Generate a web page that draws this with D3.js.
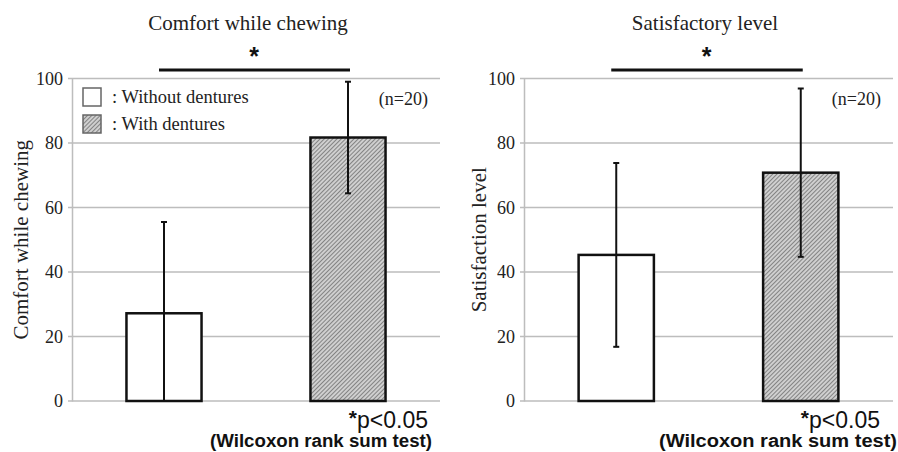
<!DOCTYPE html>
<html>
<head>
<meta charset="utf-8">
<script src="https://cdn.jsdelivr.net/npm/d3@7"></script>
<style>
  body { margin: 0; background: #fff; }
  svg { display: block; }
</style>
</head>
<body>
<script>
// data
var groups = ["Without dentures", "With dentures"];
var titles = ["Comfort while chewing", "Satisfactory level"];
var yLabels = ["Comfort while chewing", "Satisfaction level"];
var comfortMean = [27.2, 81.7];
var comfortSD = [28.3, 17.3];
var satisMean = [45.3, 70.8];
var satisSD = [28.5, 26.1];
var yTicks = [0, 20, 40, 60, 80, 100];

var W = 898, H = 452;
var serif = "'Liberation Serif', 'Times New Roman', serif";
var sans = "'Liberation Sans', Arial, sans-serif";

var svg = d3.select("body").append("svg")
    .attr("width", W)
    .attr("height", H);

// hatch pattern for "with dentures"
var defs = svg.append("defs");
var pat = defs.append("pattern")
    .attr("id", "hatch")
    .attr("patternUnits", "userSpaceOnUse")
    .attr("width", 3)
    .attr("height", 3)
    .attr("patternTransform", "rotate(45)");
pat.append("rect").attr("width", 3).attr("height", 3).attr("fill", "#cfcfcf");
pat.append("line")
    .attr("x1", 0).attr("y1", 0).attr("x2", 0).attr("y2", 3)
    .attr("stroke", "#5a5a5a").attr("stroke-width", 1.3);

var fills = ["#fff", "url(#hatch)"];

var panels = [
  {title: titles[0], ylab: yLabels[0], mean: comfortMean, sd: comfortSD,
   x0: 72, x1: 440, titleX: 248, ylabX: 21, legend: true, pvX: 428, wX: 432, wilcoxLen: 222},
  {title: titles[1], ylab: yLabels[1], mean: satisMean, sd: satisSD,
   x0: 524, x1: 893, titleX: 705, ylabX: 479, legend: false, pvX: 880, wX: 897, wilcoxLen: 238}
];

var y = d3.scaleLinear().domain([0, 100]).range([401, 78.5]);

panels.forEach(function(p) {
    var g = svg.append("g");

    var x = d3.scaleBand()
        .domain(groups)
        .range([p.x0, p.x1])
        .paddingInner(0.592)
        .paddingOuter(0.296);

    // gridlines
    g.selectAll(".grid")
        .data(yTicks)
        .enter().append("line")
        .attr("x1", p.x0 - 4)
        .attr("x2", p.x1)
        .attr("y1", function(d) { return y(d); })
        .attr("y2", function(d) { return y(d); })
        .attr("stroke", "#bdbdbd")
        .attr("stroke-width", 1.5);

    // axis
    var ax = g.append("g")
        .attr("transform", "translate(" + p.x0 + ",0)")
        .call(d3.axisLeft(y).tickValues(yTicks).tickSize(0).tickPadding(9));
    ax.select(".domain").attr("stroke", "#bdbdbd").attr("stroke-width", 1.5);
    ax.selectAll("text")
        .style("font-family", serif)
        .style("font-size", "18px")
        .attr("fill", "#222");

    // bars
    g.selectAll(".bar")
        .data(groups)
        .enter().append("rect")
        .attr("x", function(d) { return x(d); })
        .attr("width", x.bandwidth())
        .attr("y", function(d, i) { return y(p.mean[i]); })
        .attr("height", function(d, i) { return y(0) - y(p.mean[i]); })
        .attr("fill", function(d, i) { return fills[i]; })
        .attr("stroke", "#111")
        .attr("stroke-width", 2.5);

    // error bars
    var eb = g.selectAll(".err")
        .data(groups)
        .enter().append("g")
        .attr("transform", function(d) { return "translate(" + (x(d) + x.bandwidth() / 2) + ",0)"; });
    eb.append("line")
        .attr("y1", function(d, i) { return y(Math.max(0, p.mean[i] - p.sd[i])); })
        .attr("y2", function(d, i) { return y(p.mean[i] + p.sd[i]); })
        .attr("stroke", "#111").attr("stroke-width", 2);
    eb.append("line")
        .attr("x1", -3).attr("x2", 3)
        .attr("y1", function(d, i) { return y(p.mean[i] + p.sd[i]); })
        .attr("y2", function(d, i) { return y(p.mean[i] + p.sd[i]); })
        .attr("stroke", "#111").attr("stroke-width", 2);
    eb.append("line")
        .attr("x1", -3).attr("x2", 3)
        .attr("y1", function(d, i) { return y(Math.max(0, p.mean[i] - p.sd[i])); })
        .attr("y2", function(d, i) { return y(Math.max(0, p.mean[i] - p.sd[i])); })
        .attr("stroke", "#111").attr("stroke-width", 2);

    // title
    g.append("text")
        .attr("x", p.titleX).attr("y", 30)
        .attr("text-anchor", "middle")
        .style("font-family", serif).style("font-size", "21px")
        .attr("fill", "#222")
        .text(p.title);

    // significance bracket
    var c0 = x(groups[0]) + x.bandwidth() / 2,
        c1 = x(groups[1]) + x.bandwidth() / 2;
    g.append("line")
        .attr("x1", c0 - 5).attr("x2", c1 + 2)
        .attr("y1", 70).attr("y2", 70)
        .attr("stroke", "#111").attr("stroke-width", 3);
    g.append("text")
        .attr("x", (c0 + c1) / 2 - 2).attr("y", 65)
        .attr("text-anchor", "middle")
        .style("font-family", sans).style("font-size", "25px").style("font-weight", "bold")
        .attr("fill", "#111")
        .text("*");

    // n
    g.append("text")
        .attr("x", p.x1 - 12).attr("y", 105)
        .attr("text-anchor", "end")
        .style("font-family", serif).style("font-size", "18px")
        .attr("fill", "#222")
        .text("(n=20)");

    // y label
    g.append("text")
        .attr("transform", "translate(" + p.ylabX + "," + y(50) + ") rotate(-90)")
        .attr("dy", "0.35em")
        .attr("text-anchor", "middle")
        .style("font-family", serif).style("font-size", "21px")
        .attr("fill", "#222")
        .text(p.ylab);

    // footnote
    var pv = g.append("text")
        .attr("x", p.pvX).attr("y", 428)
        .attr("text-anchor", "end")
        .style("font-family", sans).style("font-size", "23px")
        .attr("fill", "#111");
    pv.append("tspan").attr("dy", -3).style("font-size", "21px").style("font-weight", "bold").text("*");
    pv.append("tspan").attr("dy", 3).text("p<0.05");
    g.append("text")
        .attr("x", p.wX).attr("y", 447)
        .attr("text-anchor", "end")
        .attr("textLength", p.wilcoxLen)
        .attr("lengthAdjust", "spacingAndGlyphs")
        .style("font-family", sans).style("font-size", "18px").style("font-weight", "bold")
        .attr("fill", "#111")
        .text("(Wilcoxon rank sum test)");

    // legend
    if (p.legend) {
        var lg = g.selectAll(".leg")
            .data(groups)
            .enter().append("g")
            .attr("transform", function(d, i) { return "translate(83," + (88 + i * 27) + ")"; });
        lg.append("rect")
            .attr("width", 18).attr("height", 18)
            .attr("fill", function(d, i) { return fills[i]; })
            .attr("stroke", "#666").attr("stroke-width", 1.5);
        lg.append("text")
            .attr("x", 29).attr("y", 15)
            .style("font-family", serif).style("font-size", "18.5px")
            .attr("fill", "#222")
            .text(function(d) { return ": " + d; });
    }
});
</script>
</body>
</html>
